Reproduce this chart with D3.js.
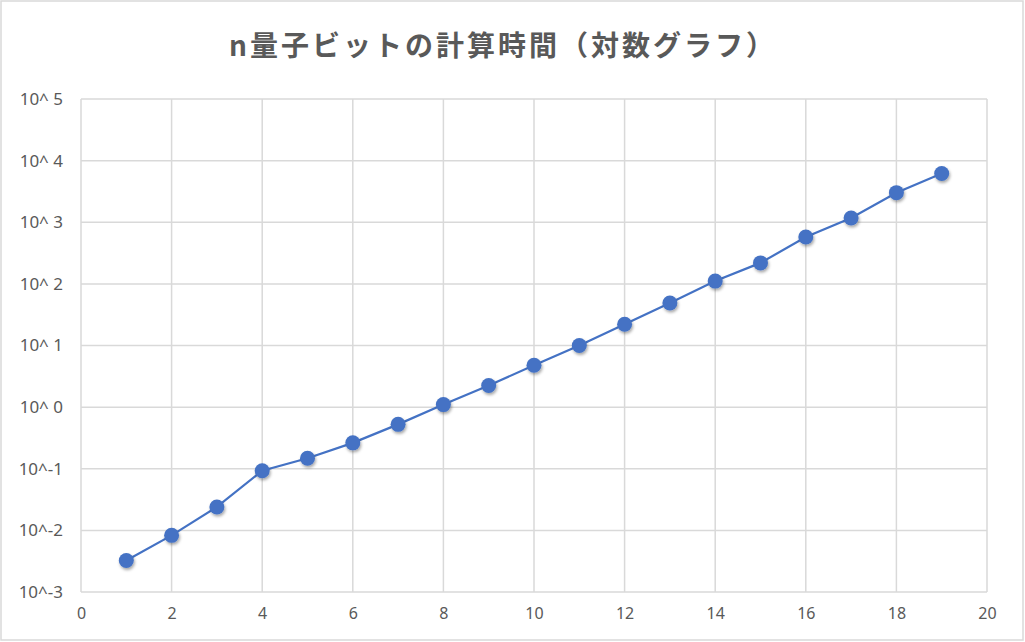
<!DOCTYPE html>
<html>
<head>
<meta charset="utf-8">
<script src="https://cdn.jsdelivr.net/npm/d3@7"></script>
<style>
    body { margin: 0; background: #ffffff; }
    svg { display: block; }
</style>
</head>
<body>
<div id="chart"></div>
<script>
// n qubits
const qubits = [1, 2, 3, 4, 5, 6, 7, 8, 9, 10, 11, 12, 13, 14, 15, 16, 17, 18, 19];
// computation time (seconds)
const times = [0.00324, 0.0083, 0.024, 0.093, 0.148, 0.263, 0.525, 1.10, 2.24, 4.79,
               10.0, 22.1, 49.0, 111, 219, 575, 1175, 3020, 6170];
const xTicks = [0, 2, 4, 6, 8, 10, 12, 14, 16, 18, 20];
const yTicks = [1e-3, 1e-2, 1e-1, 1e0, 1e1, 1e2, 1e3, 1e4, 1e5];
const title = "n量子ビットの計算時間（対数グラフ）";

const width = 1025;
const height = 642;
const margin = { top: 99, right: 38, bottom: 50, left: 81 };

const svg = d3.select("#chart").append("svg")
    .attr("width", width)
    .attr("height", height);

const defs = svg.append("defs");
const shadow = defs.append("filter")
    .attr("id", "shadow")
    .attr("x", "-50%").attr("y", "-50%")
    .attr("width", "200%").attr("height", "200%");
shadow.append("feDropShadow")
    .attr("dx", 1).attr("dy", 2)
    .attr("stdDeviation", 1.6)
    .attr("flood-color", "#000")
    .attr("flood-opacity", 0.35);

// chart area border
svg.append("rect")
    .attr("x", 1).attr("y", 1)
    .attr("width", width - 3).attr("height", height - 3)
    .attr("fill", "#fff")
    .attr("stroke", "#d9d9d9")
    .attr("stroke-width", 1.5);

const x = d3.scaleLinear()
    .domain([0, 20])
    .range([margin.left, width - margin.right]);

const y = d3.scaleLog()
    .domain([1e-3, 1e5])
    .range([height - margin.bottom, margin.top]);

// gridlines
svg.append("g")
    .selectAll("line")
    .data(xTicks)
    .join("line")
    .attr("x1", d => x(d)).attr("x2", d => x(d))
    .attr("y1", y(1e5)).attr("y2", y(1e-3))
    .attr("stroke", "#d9d9d9")
    .attr("stroke-width", 1.5);

svg.append("g")
    .selectAll("line")
    .data(yTicks)
    .join("line")
    .attr("x1", x(0)).attr("x2", x(20))
    .attr("y1", d => y(d)).attr("y2", d => y(d))
    .attr("stroke", "#d9d9d9")
    .attr("stroke-width", 1.5);

// axes labels
const fmtPow = d => {
    const e = Math.round(Math.log10(d));
    return e < 0 ? "10^" + e : "10^ " + e;
};

const yAxis = svg.append("g")
    .attr("transform", `translate(${margin.left},0)`)
    .call(d3.axisLeft(y).tickValues(yTicks).tickFormat(fmtPow).tickSize(0).tickPadding(18));
yAxis.select(".domain").remove();
yAxis.selectAll("text")
    .attr("fill", "#595959")
    .style("font-family", "'Noto Sans', 'Open Sans', sans-serif")
    .style("font-size", "17px");

const xAxis = svg.append("g")
    .attr("transform", `translate(0,${height - margin.bottom})`)
    .call(d3.axisBottom(x).tickValues(xTicks).tickFormat(d3.format("d")).tickSize(0).tickPadding(16));
xAxis.select(".domain").remove();
xAxis.selectAll("text")
    .attr("fill", "#595959")
    .style("font-family", "'Noto Sans', 'Open Sans', sans-serif")
    .style("font-size", "16px");

// series
const points = qubits.map((q, i) => ({ n: q, t: times[i] }));

svg.append("path")
    .datum(points)
    .attr("fill", "none")
    .attr("stroke", "#4472c4")
    .attr("stroke-width", 2.2)
    .attr("d", d3.line().x(d => x(d.n)).y(d => y(d.t)));

svg.append("g")
    .attr("filter", "url(#shadow)")
    .selectAll("circle")
    .data(points)
    .join("circle")
    .attr("cx", d => x(d.n))
    .attr("cy", d => y(d.t))
    .attr("r", 7.5)
    .attr("fill", "#4472c4");

// title
svg.append("text")
    .attr("x", 503)
    .attr("y", 56)
    .attr("text-anchor", "middle")
    .attr("fill", "#595959")
    .style("font-family", "'Noto Sans CJK JP', sans-serif")
    .style("font-weight", "bold")
    .style("font-size", "28px")
    .style("letter-spacing", "3px")
    .text(title);
</script>
</body>
</html>
